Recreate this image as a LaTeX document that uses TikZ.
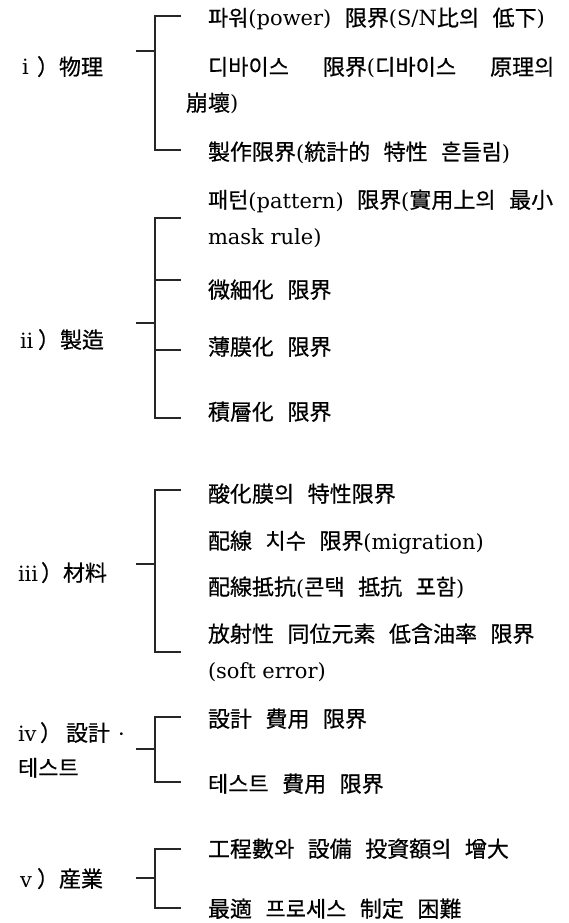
\documentclass[tikz,border=0pt]{standalone}
\usepackage{fontspec}
\setmainfont{DejaVu Serif}
\newfontfamily\krf[FakeBold=0.5]{Noto Sans CJK KR}
\newcommand\kr{\krf\fontsize{22}{26}\selectfont}
\newcommand\Gap[1][13.5]{\hspace{#1pt}}
\begin{document}
\begin{tikzpicture}[x=1pt,y=-1pt,
  txt/.style={anchor=base west,inner sep=0pt,outer sep=0pt,font=\fontsize{21}{25}\selectfont},
  br/.style={line width=1.1pt,draw=black!85}]
\fill[white] (0,0) rectangle (569,923);
\useasboundingbox (0,0) rectangle (569,923);

% ---------- group i ----------
\node[txt] (l1) at (22,75) {\makebox[15pt][l]{i}{\kr ）物理}};
\node[txt] (a1) at (208,26) {{\kr 파워}(power)\Gap{\kr 限界}(S/N{\kr 比의}\Gap{\kr 低下})};
\node[txt] (a2) at (208,75) {{\kr 디바이스}\Gap[34]{\kr 限界}({\kr 디바이스}\Gap[34]{\kr 原理의}};
\node[txt] (a2b) at (186,111) {{\kr 崩壞})};
\node[txt] (a3) at (208,160) {{\kr 製作限界}({\kr 統計的}\Gap{\kr 特性}\Gap{\kr 흔들림})};

\coordinate (iS) at (136,51);  \coordinate (iJ) at (155,51);
\coordinate (iT) at (181,16);  \coordinate (iTv) at (155,16);
\coordinate (iB) at (181,150); \coordinate (iBv) at (155,150);
\draw[br] (iT) -- (iTv) -- (iBv) -- (iB);
\draw[br] (iS) -- (iJ);

% ---------- group ii ----------
\node[txt] (l2) at (20,348) {\makebox[18pt][l]{ii}{\kr ）製造}};
\node[txt] (b1) at (208,208) {{\kr 패턴}(pattern)\Gap{\kr 限界}({\kr 實用上의}\Gap{\kr 最小}};
\node[txt] (b1b) at (208,244) {mask rule)};
\node[txt] (b2) at (208,298) {{\kr 微細化}\Gap{\kr 限界}};
\node[txt] (b3) at (208,355) {{\kr 薄膜化}\Gap{\kr 限界}};
\node[txt] (b4) at (208,420) {{\kr 積層化}\Gap{\kr 限界}};

\coordinate (iiS) at (136,323); \coordinate (iiJ) at (155,323);
\coordinate (iiT) at (181,218); \coordinate (iiTv) at (155,218);
\coordinate (iiM1) at (181,280); \coordinate (iiM1v) at (155,280);
\coordinate (iiM2) at (181,350); \coordinate (iiM2v) at (155,350);
\coordinate (iiB) at (181,418); \coordinate (iiBv) at (155,418);
\draw[br] (iiT) -- (iiTv) -- (iiBv) -- (iiB);
\draw[br] (iiM1v) -- (iiM1);
\draw[br] (iiM2v) -- (iiM2);
\draw[br] (iiS) -- (iiJ);

% ---------- group iii ----------
\node[txt] (l3) at (18,581) {\makebox[23pt][l]{iii}{\kr ）材料}};
\node[txt] (c1) at (208,502) {{\kr 酸化膜의}\Gap{\kr 特性限界}};
\node[txt] (c2) at (208,549) {{\kr 配線}\Gap{\kr 치수}\Gap{\kr 限界}(migration)};
\node[txt] (c3) at (208,595) {{\kr 配線抵抗}({\kr 콘택}\Gap{\kr 抵抗}\Gap{\kr 포함})};
\node[txt] (c4) at (208,642) {{\kr 放射性}\Gap{\kr 同位元素}\Gap{\kr 低含油率}\Gap{\kr 限界}};
\node[txt] (c4b) at (208,678) {(soft error)};

\coordinate (iiiS) at (136,564); \coordinate (iiiJ) at (155,564);
\coordinate (iiiT) at (181,490); \coordinate (iiiTv) at (155,490);
\coordinate (iiiB) at (181,652); \coordinate (iiiBv) at (155,652);
\draw[br] (iiiT) -- (iiiTv) -- (iiiBv) -- (iiiB);
\draw[br] (iiiS) -- (iiiJ);

% ---------- group iv ----------
\node[txt] (l4) at (18,741) {\makebox[22pt][l]{iv}{\kr ）}\hspace{4pt}{\kr 設計}\hspace{8pt}·};
\node[txt] (l4b) at (18,776) {{\kr 테스트}};
\node[txt] (d1) at (208,727) {{\kr 設計}\Gap{\kr 費用}\Gap{\kr 限界}};
\node[txt] (d2) at (208,792) {{\kr 테스트}\Gap{\kr 費用}\Gap{\kr 限界}};

\coordinate (ivS) at (136,749); \coordinate (ivJ) at (155,749);
\coordinate (ivT) at (181,717); \coordinate (ivTv) at (155,717);
\coordinate (ivB) at (181,782); \coordinate (ivBv) at (155,782);
\draw[br] (ivT) -- (ivTv) -- (ivBv) -- (ivB);
\draw[br] (ivS) -- (ivJ);

% ---------- group v ----------
\node[txt] (l5) at (20,887) {\makebox[17pt][l]{v}{\kr ）産業}};
\node[txt] (e1) at (208,857) {{\kr 工程數와}\Gap{\kr 設備}\Gap{\kr 投資額의}\Gap{\kr 增大}};
\node[txt] (e2) at (208,917) {{\kr 最適}\Gap{\kr 프로세스}\Gap{\kr 制定}\Gap{\kr 困難}};

\coordinate (vS) at (136,878); \coordinate (vJ) at (155,878);
\coordinate (vT) at (181,849); \coordinate (vTv) at (155,849);
\coordinate (vB) at (181,908); \coordinate (vBv) at (155,908);
\draw[br] (vT) -- (vTv) -- (vBv) -- (vB);
\draw[br] (vS) -- (vJ);
\end{tikzpicture}
\end{document}
